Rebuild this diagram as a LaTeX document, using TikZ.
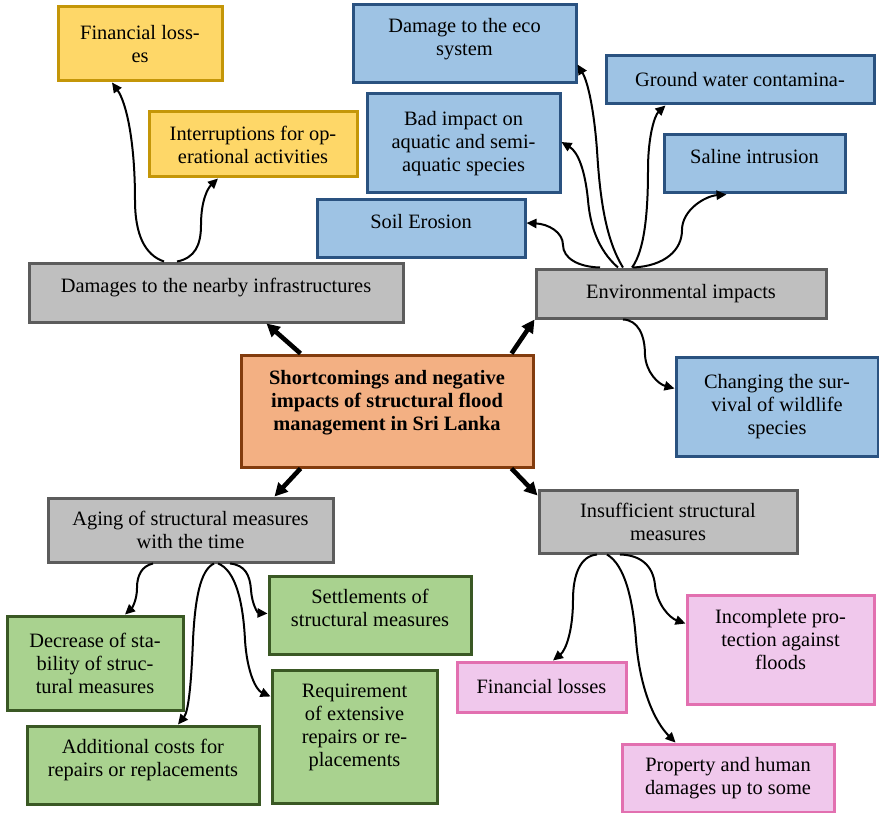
\documentclass[tikz,border=0pt]{standalone}
\usepackage{fontspec}
\setmainfont{Liberation Serif}
\usepackage{tikz}
\usetikzlibrary{arrows.meta, calc}
\definecolor{yelfill}{RGB}{254,215,104}
\definecolor{yeldraw}{RGB}{196,150,8}
\definecolor{bluefill}{RGB}{158,195,228}
\definecolor{bluedraw}{RGB}{42,82,128}
\definecolor{greyfill}{RGB}{191,191,191}
\definecolor{greydraw}{RGB}{92,92,92}
\definecolor{mainfill}{RGB}{243,176,131}
\definecolor{maindraw}{RGB}{130,60,14}
\definecolor{greenfill}{RGB}{169,210,143}
\definecolor{greendraw}{RGB}{58,88,36}
\definecolor{pinkfill}{RGB}{240,200,236}
\definecolor{pinkdraw}{RGB}{226,112,176}
\tikzset{
  box/.style={rectangle, inner sep=0pt, align=center, line width=1.5pt,
    font=\fontsize{10.2}{11.5}\selectfont},
  yelbox/.style={box, draw=yeldraw, fill=yelfill},
  bluebox/.style={box, draw=bluedraw, fill=bluefill},
  greybox/.style={box, draw=greydraw, fill=greyfill},
  greenbox/.style={box, draw=greendraw, fill=greenfill},
  pinkbox/.style={box, draw=pinkdraw, fill=pinkfill},
  mainbox/.style={box, draw=maindraw, fill=mainfill},
  lift/.style={text depth=#1},
  conn/.style={-{Triangle[length=5pt,width=4.6pt]}, line width=1pt, color=black},
  mainarrow/.style={-{Triangle[length=6.5pt,width=6.5pt]}, line width=2.3pt, color=black}
}

\begin{document}
\begin{tikzpicture}[x=0.5pt, y=-0.5pt]
  \useasboundingbox (0,0) rectangle (879,813);

  % central topic
  \node[mainbox, lift=11pt, minimum width=146pt, minimum height=56pt] (main) at (387,411)
    {\bfseries Shortcomings and negative\\\bfseries impacts of structural flood\\\bfseries management in Sri Lanka};

  % four main branches
  \node[greybox, lift=7pt, minimum width=187pt, minimum height=29.5pt] (dmg) at (216,292.5)
    {Damages to the nearby infrastructures};
  \node[greybox, minimum width=145pt, minimum height=24.5pt] (env) at (681,293.5)
    {Environmental impacts};
  \node[greybox, minimum width=142.5pt, minimum height=32pt] (aging) at (190.5,530)
    {Aging of structural measures\\with the time};
  \node[greybox, minimum width=129pt, minimum height=31.5pt] (insuf) at (668,521.5)
    {Insufficient structural\\measures};

  % damages to infrastructures
  \node[yelbox, minimum width=82pt, minimum height=37pt] (finA) at (140,44)
    {Financial loss-\\es};
  \node[yelbox, minimum width=104pt, minimum height=32.5pt] (interr) at (253,144.5)
    {Interruptions for op-\\erational activities};

  % environmental impacts
  \node[bluebox, lift=7pt, minimum width=111.5pt, minimum height=39pt] (eco) at (464.5,44)
    {Damage to the eco\\system};
  \node[bluebox, minimum width=134pt, minimum height=24pt] (ground) at (740,80)
    {Ground water contamina-};
  \node[bluebox, minimum width=96.5pt, minimum height=49.5pt] (bad) at (463.5,143.5)
    {Bad impact on\\aquatic and semi-\\aquatic species};
  \node[bluebox, lift=8pt, minimum width=90.5pt, minimum height=29pt] (saline) at (754.5,164)
    {Saline intrusion};
  \node[bluebox, lift=7pt, minimum width=104pt, minimum height=28.5pt] (soil) at (421,228.5)
    {Soil Erosion};
  \node[bluebox, minimum width=101pt, minimum height=49.5pt] (wild) at (777,406.5)
    {Changing the sur-\\vival of wildlife\\species};

  % aging of structural measures
  \node[greenbox, lift=7pt, minimum width=101pt, minimum height=39pt] (settle) at (370,615)
    {Settlements of\\structural measures};
  \node[greenbox, minimum width=88pt, minimum height=47pt] (decr) at (95,663)
    {Decrease of sta-\\bility of struc-\\tural measures};
  \node[greenbox, lift=11pt, minimum width=82.5pt, minimum height=66.5pt] (requ) at (354.5,736.5)
    {Requirement\\of extensive\\repairs or re-\\placements};
  \node[greenbox, lift=7pt, minimum width=116pt, minimum height=39pt] (addc) at (143,765)
    {Additional costs for\\repairs or replacements};

  % insufficient structural measures
  \node[pinkbox, minimum width=84.5pt, minimum height=25pt] (finB) at (541.5,687)
    {Financial losses};
  \node[pinkbox, lift=10pt, minimum width=93.5pt, minimum height=54.5pt] (incom) at (780.5,649.5)
    {Incomplete pro-\\tection against\\floods};
  \node[pinkbox, minimum width=106pt, minimum height=34pt] (prop) at (728,778)
    {Property and human\\damages up to some};

  % thick arrows from the centre
  \draw[mainarrow] ($(main.north west)+(61,0)$) -- ($(dmg.south east)+(-138,0)$);
  \draw[mainarrow] ($(main.north east)+(-23,0)$) -- (env.south west);
  \draw[mainarrow] ($(main.south west)+(61,0)$) -- ($(aging.north east)+(-60,0)$);
  \draw[mainarrow] ($(main.south east)+(-23,0)$) -- ($(insuf.north west)+(0,7)$);

  % damages branch
  \draw[conn] ($(dmg.north)+(-52,0)$) .. controls (145,255) and (135,235) .. (135,200)
    .. controls (135,140) and (126,102) .. ($(finA.south)+(-28,0)$);
  \draw[conn] ($(dmg.north)+(-39,0)$) .. controls (195,258) and (201,245) .. (201,225)
    .. controls (201,200) and (208,188) .. ($(interr.south)+(-35,0)$);

  % environmental branch
  \draw[conn] ($(env.north)+(-81,0)$) .. controls (578,267) and (563,258) .. (563,245)
    .. controls (563,232) and (548,224) .. ($(soil.east)+(0,-5.5)$);
  \draw[conn] ($(env.north)+(-63,0)$) .. controls (598,250) and (590,225) .. (588,200)
    .. controls (585,170) and (578,152) .. ($(bad.east)+(0,-1.5)$);
  \draw[conn] ($(env.north)+(-58,0)$) .. controls (606,240) and (600,200) .. (597,150)
    .. controls (594,110) and (588,82) .. ($(eco.south east)+(0,-20)$);
  \draw[conn] ($(env.north)+(-49,0)$) .. controls (645,250) and (648,210) .. (648,170)
    .. controls (648,135) and (655,115) .. ($(ground.south west)+(61,0)$);
  \draw[conn] ($(env.north)+(-48,0)$) .. controls (665,266) and (682,250) .. (682,230)
    .. controls (682,210) and (705,196) .. ($(saline.south west)+(64,0)$);
  \draw[conn] ($(env.south)+(-58,0)$) .. controls (638,320) and (645,335) .. (645,355)
    .. controls (646,372) and (658,384) .. ($(wild.west)+(0,-18)$);

  % aging branch
  \draw[conn] ($(aging.south)+(-37.5,0)$) .. controls (142,566) and (137,575) .. (137,588)
    .. controls (137,600) and (132,608) .. ($(decr.north)+(30,0)$);
  \draw[conn] ($(aging.south)+(23.5,0)$) .. controls (200,570) and (195,600) .. (193,640)
    .. controls (191,690) and (188,712) .. ($(addc.north)+(35,0)$);
  \draw[conn] ($(aging.south)+(27.5,0)$) .. controls (235,570) and (243,600) .. (245,640)
    .. controls (247,672) and (256,690) .. ($(requ.north west)+(0,28)$);
  \draw[conn] ($(aging.south)+(39.5,0)$) .. controls (245,565) and (250,575) .. (251,590)
    .. controls (252,605) and (258,613) .. ($(settle.north west)+(0,39)$);

  % insufficient branch
  \draw[conn] ($(insuf.south)+(-71,0)$) .. controls (580,556) and (573,575) .. (573,600)
    .. controls (573,630) and (566,650) .. ($(finB.north)+(11.5,0)$);
  \draw[conn] ($(insuf.south)+(-61,0)$) .. controls (625,565) and (633,600) .. (636,640)
    .. controls (640,690) and (655,722) .. ($(prop.north west)+(55,0)$);
  \draw[conn] ($(insuf.south)+(-48,0)$) .. controls (640,555) and (653,565) .. (655,585)
    .. controls (657,605) and (670,618) .. ($(incom.west)+(0,-26)$);
\end{tikzpicture}
\end{document}
